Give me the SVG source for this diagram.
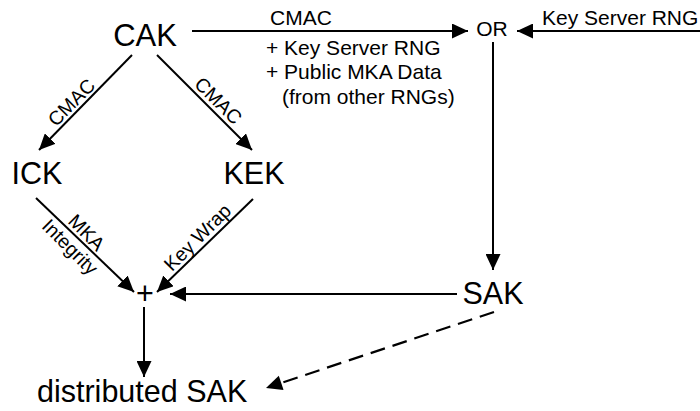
<svg xmlns="http://www.w3.org/2000/svg" width="700" height="411" viewBox="0 0 700 411">
  <style>
    text { font-family: "Liberation Sans", Arial, sans-serif; fill: #000; }
    .big { font-size: 30.5px; }
    .lbl { font-size: 21px; }
    .dlbl { font-size: 19.5px; }
    .edge { stroke: #000; stroke-width: 2; fill: none; marker-end: url(#arrow); }
    .dash { stroke: #000; stroke-width: 2.2; fill: none; stroke-dasharray: 15 8; }
    .head { fill: #000; }
  </style>
  <defs>
    <marker id="arrow" markerUnits="userSpaceOnUse" markerWidth="16" markerHeight="15" refX="16" refY="7.5" orient="auto">
      <path d="M0,0 L16,7.5 L0,15 z" fill="#000"/>
    </marker>
  </defs>
  <rect width="700" height="411" fill="#fff"/>

  <g id="connectors">
    <line class="edge" x1="192" y1="31" x2="468" y2="31"/>
    <line class="edge" x1="700" y1="31" x2="517" y2="31"/>
    <line class="edge" x1="493" y1="42" x2="493" y2="270"/>
    <line class="edge" x1="132" y1="55" x2="39" y2="150"/>
    <line class="edge" x1="157" y1="55" x2="252" y2="150"/>
    <line class="edge" x1="36" y1="198" x2="134" y2="292"/>
    <line class="edge" x1="253" y1="199" x2="157" y2="292"/>
    <line class="edge" x1="457" y1="294" x2="170" y2="294"/>
    <line class="edge" x1="144" y1="307" x2="144" y2="377"/>
    <line class="dash" x1="494" y1="312" x2="281" y2="383"/>
    <polygon class="head" points="266,388 278.8,375.8 283.6,390.1"/>
  </g>

  <g id="edge-labels">
    <text class="lbl" x="301" y="25" text-anchor="middle">CMAC</text>
    <text class="lbl" x="266" y="54.5">+ Key Server RNG</text>
    <text class="lbl" x="266" y="79">+ Public MKA Data</text>
    <text class="lbl" x="282" y="103.5">(from other RNGs)</text>
    <text class="lbl" x="542" y="25">Key Server RNG</text>
    <text class="dlbl" text-anchor="middle" transform="translate(79,110) rotate(-45)" y="-4">CMAC</text>
    <text class="dlbl" text-anchor="middle" transform="translate(210,109) rotate(45)" y="-5">CMAC</text>
    <text class="dlbl" text-anchor="middle" transform="translate(79,240) rotate(45)" y="-4">MKA</text>
    <text class="dlbl" text-anchor="middle" transform="translate(78,239) rotate(45)" y="18">Integrity</text>
    <text class="dlbl" text-anchor="middle" transform="translate(205,245) rotate(-45)" y="-4">Key Wrap</text>
  </g>

  <g id="node-cak"><text class="big" x="145" y="45.5" text-anchor="middle" style="font-size:31px">CAK</text></g>
  <g id="node-or"><text class="lbl" x="492" y="36" text-anchor="middle">OR</text></g>
  <g id="node-ick"><text class="big" x="37" y="184" text-anchor="middle">ICK</text></g>
  <g id="node-kek"><text class="big" x="254" y="184" text-anchor="middle">KEK</text></g>
  <g id="node-plus"><text class="big" x="145" y="304" text-anchor="middle">+</text></g>
  <g id="node-sak"><text class="big" x="493" y="304" text-anchor="middle">SAK</text></g>
  <g id="node-distributed-sak"><text class="big" x="37" y="402">distributed SAK</text></g>
</svg>
